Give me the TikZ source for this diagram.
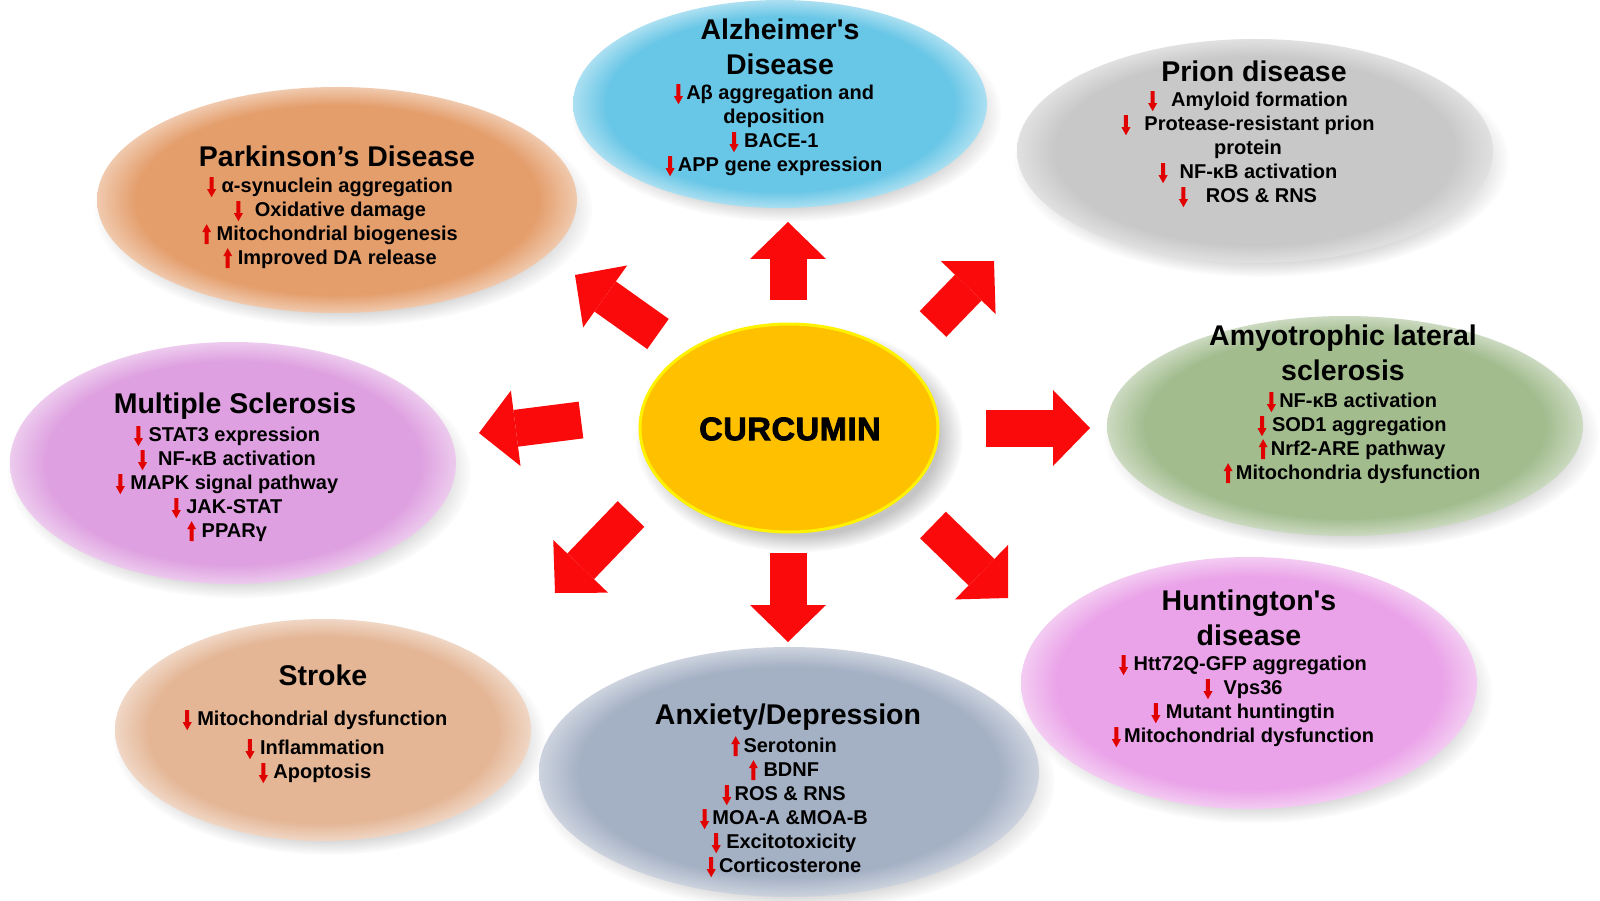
\documentclass[tikz,border=0pt]{standalone}
\usepackage{fontspec}
\setmainfont{Liberation Sans}
\newfontfamily\heavyfont{Liberation Sans}[BoldFeatures={FakeBold=2.5,LetterSpace=2}]
\usetikzlibrary{shapes.geometric}
\usetikzlibrary{arrows.meta}
\usetikzlibrary{shadows}
\usepackage{xcolor}

\definecolor{alzcol}{RGB}{104,198,230}
\definecolor{parkcol}{RGB}{228,158,108}
\definecolor{pricol}{RGB}{200,200,200}
\definecolor{alscol}{RGB}{162,188,142}
\definecolor{mscol}{RGB}{222,160,224}
\definecolor{huntcol}{RGB}{234,162,232}
\definecolor{anxcol}{RGB}{164,176,196}
\definecolor{strcol}{RGB}{228,182,150}
\definecolor{curcol}{RGB}{255,192,0}
\definecolor{bigred}{RGB}{250,10,10}
\definecolor{smallred}{RGB}{225,0,0}

\makeatletter
\pgfdeclareradialshading[tikz@ball]{rimball}{\pgfpoint{0bp}{0bp}}{%
  color(0bp)=(tikz@ball); color(21bp)=(tikz@ball);
  color(25bp)=(tikz@ball!55!white); color(50bp)=(tikz@ball!55!white)}
\makeatother

% small red arrows in the lists
\newcommand{\dnar}{\tikz[x=1pt,y=1pt,baseline=0pt]
  \fill[smallred] (-2,15) -- (2,15) -- (2,3) -- (4.5,3) -- (0,-5) -- (-4.5,3) -- (-2,3) -- cycle;}
\newcommand{\upar}{\tikz[x=1pt,y=1pt,baseline=0pt]
  \fill[smallred] (-2,-4) -- (2,-4) -- (2,8) -- (4.5,8) -- (0,16) -- (-4.5,8) -- (-2,8) -- cycle;}

\tikzset{
  disease/.style={ellipse, inner sep=0pt, ball color=#1, shading=rimball,
    circular drop shadow={shadow xshift=6pt, shadow yshift=-9pt,
      shadow scale=1.04, opacity=0.35}},
  dtitle/.style={anchor=north, align=center, inner sep=0pt,
    font=\bfseries\fontsize{28.5}{35}\selectfont},
  dlist/.style={anchor=north, align=center, inner sep=0pt,
    font=\bfseries\fontsize{20}{24}\selectfont},
  bigarrow/.style={draw=bigred, line width=37pt,
    -{Triangle[length=37pt,width=76pt,line width=0pt]}}
}

\begin{document}
\begin{tikzpicture}[x=1pt,y=-1pt]
\useasboundingbox (0,0) rectangle (1600,901);
\fill [white] (0,0) rectangle (1600,901);

% disease ellipses
\node [disease=alzcol, minimum width=414, minimum height=208] (alz) at (780,104) {};
\node [disease=parkcol, minimum width=480, minimum height=226] (park) at (337,200) {};
\node [disease=pricol, minimum width=476, minimum height=224] (prion) at (1255,151) {};
\node [disease=alscol, minimum width=476, minimum height=220] (als) at (1345,426) {};
\node [disease=mscol, minimum width=446, minimum height=242] (ms) at (233,463) {};
\node [disease=huntcol, minimum width=456, minimum height=252] (hunt) at (1249,683) {};
\node [disease=anxcol, minimum width=500, minimum height=250] (anx) at (789,772) {};
\node [disease=strcol, minimum width=416, minimum height=222] (stroke) at (323,730) {};

% centre
\node [ellipse, inner sep=0pt, minimum width=298, minimum height=208,
  fill=curcol, draw=yellow, line width=3pt,
  circular drop shadow={shadow xshift=9pt, shadow yshift=-9pt, opacity=0.45}]
  (cur) at (789,428) {};
\node [inner sep=0pt, font=\heavyfont\bfseries\fontsize{32.5}{36}\selectfont] (curname) at (790,429) {CURCUMIN};

% block arrows
\coordinate (toalz0) at (788,300);   \coordinate (toalz1) at (788,222);
\coordinate (topri0) at (933,324);   \coordinate (topri1) at (994,261);
\coordinate (toals0) at (986,428);   \coordinate (toals1) at (1090,428);
\coordinate (tohunt0) at (933,525);  \coordinate (tohunt1) at (1008,598);
\coordinate (toanx0) at (788,553);   \coordinate (toanx1) at (788,642);
\coordinate (tostr0) at (631,514);   \coordinate (tostr1) at (555,593);
\coordinate (toms0) at (581,420);    \coordinate (toms1) at (479,433);
\coordinate (topark0) at (658,334);  \coordinate (topark1) at (575,275);
\draw [bigarrow] (toalz0) -- (toalz1);
\draw [bigarrow] (topri0) -- (topri1);
\draw [bigarrow] (toals0) -- (toals1);
\draw [bigarrow] (tohunt0) -- (tohunt1);
\draw [bigarrow] (toanx0) -- (toanx1);
\draw [bigarrow] (tostr0) -- (tostr1);
\draw [bigarrow] (toms0) -- (toms1);
\draw [bigarrow] (topark0) -- (topark1);

% texts
\node [dtitle] (alzname) at (780,19) {Alzheimer\textquotesingle s\\Disease};
\node [dlist] (alzlist) at (774,84) {\dnar\,Aβ aggregation and\\deposition\\\dnar\ BACE-1\\\dnar\,APP gene expression};

\node [dtitle] (parkname) at (337,146) {Parkinson’s Disease};
\node [dlist] (parklist) at (330,177) {\dnar\ α-synuclein aggregation\\\dnar\hspace{12pt}Oxidative damage\\\upar\ Mitochondrial biogenesis\\\upar\ Improved DA release};

\node [dtitle] (priname) at (1254,61) {Prion disease};
\node [dlist] (prilist) at (1248,91) {\dnar\hspace{14pt}Amyloid formation\\\dnar\hspace{14pt}Protease-resistant prion\\protein\\\dnar\hspace{12pt}NF-κB activation\\\dnar\hspace{18pt}ROS \& RNS};

\node [dtitle] (alsname) at (1343,325) {Amyotrophic lateral\\sclerosis};
\node [dlist] (alslist) at (1352,392) {\dnar\,NF-κB activation\\\dnar\ SOD1 aggregation\\\upar\,Nrf2-ARE pathway\\\upar\,Mitochondria dysfunction};

\node [dtitle] (msname) at (235,393) {Multiple Sclerosis};
\node [dlist] (mslist) at (227,426) {\dnar\ STAT3 expression\\\dnar\ \ NF-κB activation\\\dnar\ MAPK signal pathway\\\dnar\ JAK-STAT\\\upar\ PPARγ};

\node [dtitle] (huntname) at (1249,590) {Huntington\textquotesingle s\\disease};
\node [dlist] (huntlist) at (1243,655) {\dnar\ Htt72Q-GFP aggregation\\\dnar\ \ Vps36\\\dnar\ Mutant huntingtin\\\dnar\,Mitochondrial dysfunction};

\node [dtitle] (anxname) at (788,704) {Anxiety/Depression};
\node [dlist] (anxlist) at (784,736) {\upar\,Serotonin\\\upar\ BDNF\\\dnar\,ROS \& RNS\\\dnar\,MOA-A \&MOA-B\\\dnar\ Excitotoxicity\\\dnar\,Corticosterone};

\node [dtitle] (strname) at (323,665) {Stroke};
\node [dlist] (strlist) at (315,710) {\dnar\ Mitochondrial dysfunction\\[5pt]\dnar\ Inflammation\\\dnar\ Apoptosis};

\end{tikzpicture}
\end{document}
